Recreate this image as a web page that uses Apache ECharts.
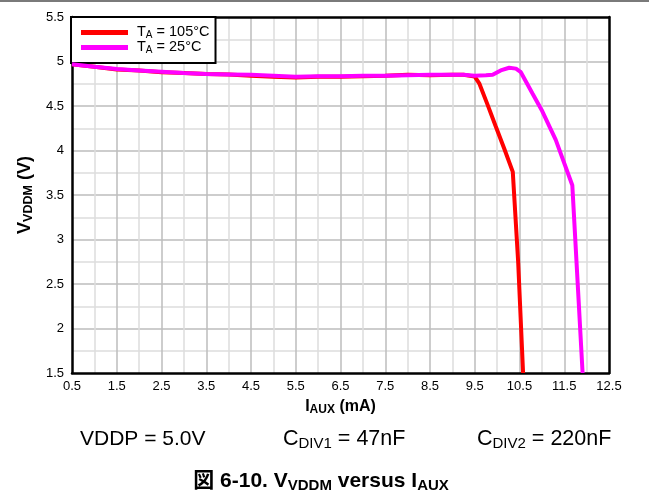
<!DOCTYPE html>
<html>
<head>
<meta charset="utf-8">
<script src="https://cdn.jsdelivr.net/npm/echarts@6/dist/echarts.min.js"></script>
<style>
html,body{margin:0;padding:0;background:#fff;}
#c{width:649px;height:497px;}
</style>
</head>
<body>
<div id="c"></div>
<script>
// ---- data ----
const seriesNames = ['TA = 105°C', 'TA = 25°C'];
const red105 = [
  [0.5,4.97],[1.0,4.94],[1.5,4.91],[2.0,4.90],[2.5,4.88],[3.0,4.87],[3.5,4.86],[4.0,4.855],
  [4.5,4.84],[5.0,4.83],[5.5,4.82],[6.0,4.83],[6.5,4.83],[7.0,4.835],[7.5,4.84],[8.0,4.85],
  [8.5,4.845],[9.0,4.85],[9.25,4.85],[9.5,4.83],[9.6,4.755],[9.79,4.51],[9.97,4.27],
  [10.16,4.02],[10.35,3.76],[10.47,2.75],[10.58,1.5]
];
const mag25 = [
  [0.5,4.97],[1.0,4.94],[1.5,4.915],[2.0,4.90],[2.5,4.885],[3.0,4.87],[3.5,4.86],[4.0,4.855],
  [4.5,4.85],[5.0,4.84],[5.5,4.83],[6.0,4.835],[6.5,4.835],[7.0,4.84],[7.5,4.84],[8.0,4.845],
  [8.5,4.85],[9.0,4.85],[9.25,4.85],[9.5,4.84],[9.75,4.845],[9.9,4.85],[10.08,4.90],
  [10.27,4.93],[10.42,4.92],[10.53,4.88],[10.79,4.64],[11.01,4.44],[11.31,4.12],
  [11.68,3.61],[11.91,1.5]
];
const xMin = 0.5, xMax = 12.5, xStep = 0.5;
const yMin = 1.5, yMax = 5.5, yStep = 0.25;

const FONT = "'Liberation Sans', Arial, 'Noto Sans CJK JP', sans-serif";
const chart = echarts.init(document.getElementById('c'), null, {renderer:'canvas'});

const isHalf = v => Math.abs((v % 1) - 0.5) < 1e-9;
const isMult05 = v => Math.abs(v*2 - Math.round(v*2)) < 1e-9;

const splitColors = ['#dcdcdc', '#bcbcbc'];

const option = {
  backgroundColor: '#fff',
  animation: false,
  grid: {left: 72, right: 40, top: 17, bottom: 124, containLabel: false},
  legend: {
    show: true,
    orient: 'vertical',
    left: 71, top: 17,
    padding: [8, 6, 8, 10],
    itemGap: 0,
    itemWidth: 47, itemHeight: 5,
    icon: 'rect',
    selectedMode: false,
    backgroundColor: '#fff',
    borderColor: '#000',
    borderWidth: 2,
    borderRadius: 0,
    data: [{name: seriesNames[0]}, {name: seriesNames[1]}],
    formatter: function (name) {
      return name === seriesNames[0] ? '{n|T}{s|A}{n| = 105°C}' : '{n|T}{s|A}{n| = 25°C}';
    },
    textStyle: {
      fontFamily: FONT, fontSize: 14, color: '#000', padding: [0,0,0,4],
      rich: {
        n: {fontFamily: FONT, fontSize: 14.5, color: '#000', lineHeight: 15},
        s: {fontFamily: FONT, fontSize: 10, color: '#000', verticalAlign: 'bottom', lineHeight: 15, padding: [5,0,0,0]}
      }
    }
  },
  xAxis: [{
    type: 'value', min: xMin, max: xMax, interval: xStep,
    name: '{b|I}{bs|AUX}{b| (mA)}',
    nameLocation: 'middle', nameGap: 24,
    nameTextStyle: {
      rich: {
        b: {fontFamily: FONT, fontSize: 16, fontWeight: 'bold', color: '#000', lineHeight: 18},
        bs: {fontFamily: FONT, fontSize: 12, fontWeight: 'bold', color: '#000', verticalAlign: 'bottom', lineHeight: 18, padding: [6,0,0,0]}
      }
    },
    axisLine: {show: true, onZero: false, lineStyle: {color: '#000', width: 2.5}},
    axisTick: {show: false},
    axisLabel: {
      show: true, margin: 7, color: '#000', fontFamily: FONT, fontSize: 13,
      formatter: v => isHalf(v) ? String(v) : ''
    },
    splitLine: {show: true, showMinLine: false, showMaxLine: false, lineStyle: {color: splitColors, width: 1.5}}
  }, {
    type: 'value', position: 'top', min: xMin, max: xMax, interval: xStep,
    axisLine: {show: true, onZero: false, lineStyle: {color: '#000', width: 2.5}},
    axisTick: {show: false}, axisLabel: {show: false}, splitLine: {show: false}
  }],
  yAxis: [{
    type: 'value', min: yMin, max: yMax, interval: yStep,
    name: '{b|V}{bs|VDDM}{b| (V)}',
    nameLocation: 'middle', nameGap: 34, nameRotate: 90,
    nameTextStyle: {
      rich: {
        b: {fontFamily: FONT, fontSize: 18, fontWeight: 'bold', color: '#000', lineHeight: 20},
        bs: {fontFamily: FONT, fontSize: 12.5, fontWeight: 'bold', color: '#000', verticalAlign: 'bottom', lineHeight: 20, padding: [7,0,0,0]}
      }
    },
    axisLine: {show: true, onZero: false, lineStyle: {color: '#000', width: 2.5}},
    axisTick: {show: false},
    axisLabel: {
      show: true, margin: 8, color: '#000', fontFamily: FONT, fontSize: 13,
      formatter: v => isMult05(v) ? String(v) : ''
    },
    splitLine: {show: true, showMinLine: false, showMaxLine: false, lineStyle: {color: splitColors, width: 1.5}}
  }, {
    type: 'value', position: 'right', min: yMin, max: yMax, interval: yStep,
    axisLine: {show: true, onZero: false, lineStyle: {color: '#000', width: 2.5}},
    axisTick: {show: false}, axisLabel: {show: false}, splitLine: {show: false}
  }],
  series: [{
    name: seriesNames[0], type: 'line', data: red105, showSymbol: false, symbol: 'none',
    lineStyle: {color: '#ff0000', width: 4}, itemStyle: {color: '#ff0000'}, clip: true, z: 3
  }, {
    name: seriesNames[1], type: 'line', data: mag25, showSymbol: false, symbol: 'none',
    lineStyle: {color: '#ff00ff', width: 4}, itemStyle: {color: '#ff00ff'}, clip: true, z: 4
  }],
  graphic: [
    {type: 'rect', shape: {x: 0, y: 0, width: 649, height: 2}, style: {fill: '#7a7a7a'}},
    {type: 'text', x: 80, y: 439, style: {
      text: 'VDDP = 5.0V', font: '21px ' + FONT, fill: '#000', verticalAlign: 'middle'}},
    {type: 'text', x: 283, y: 439, style: {
      text: '{n|C}{s|DIV1}{n| = 47nF}', fill: '#000', verticalAlign: 'middle',
      rich: {n: {fontFamily: FONT, fontSize: 21.5, lineHeight: 24, fill: '#000'},
             s: {fontFamily: FONT, fontSize: 15, lineHeight: 24, verticalAlign: 'bottom', padding: [9,0,0,0], fill: '#000'}}}},
    {type: 'text', x: 477, y: 439, style: {
      text: '{n|C}{s|DIV2}{n| = 220nF}', fill: '#000', verticalAlign: 'middle',
      rich: {n: {fontFamily: FONT, fontSize: 21.5, lineHeight: 24, fill: '#000'},
             s: {fontFamily: FONT, fontSize: 15, lineHeight: 24, verticalAlign: 'bottom', padding: [9,0,0,0], fill: '#000'}}}},
    {type: 'text', x: 321, y: 481, style: {
      text: '{b|図 6-10. V}{bs|VDDM}{b| versus I}{bs|AUX}', fill: '#000', align: 'center', verticalAlign: 'middle',
      rich: {b: {fontFamily: FONT, fontSize: 21, fontWeight: 'bold', lineHeight: 24, fill: '#000'},
             bs: {fontFamily: FONT, fontSize: 15, fontWeight: 'bold', lineHeight: 24, verticalAlign: 'bottom', padding: [8,0,0,0], fill: '#000'}}}}
  ]
};
chart.setOption(option);
</script>
</body>
</html>
